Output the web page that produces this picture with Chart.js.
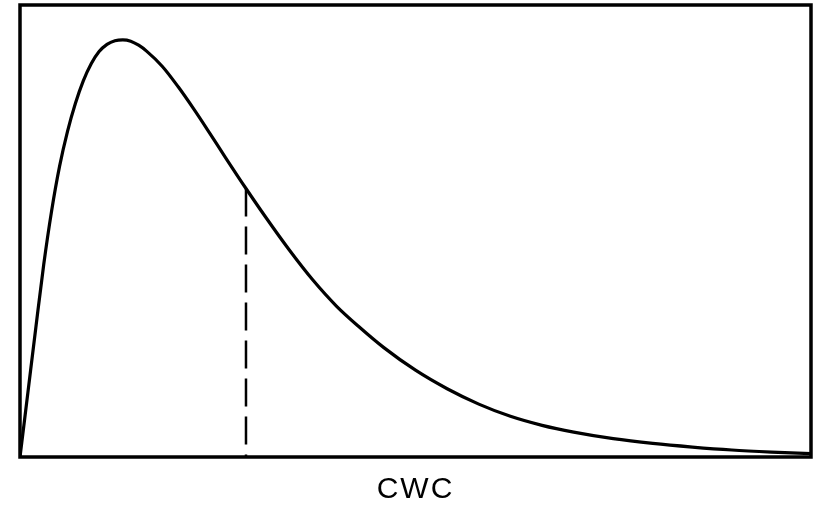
<!DOCTYPE html>
<html>
<head>
<meta charset="utf-8">
<script src="https://cdn.jsdelivr.net/npm/chart.js@4.4.1/dist/chart.umd.min.js"></script>
<style>
  html, body { margin: 0; padding: 0; background: #fff; }
  #wrap { width: 817px; height: 508px; }
</style>
</head>
<body>
<div id="wrap"><canvas id="cwc-chart"></canvas></div>
<script>
// distribution curve, CWC on x (0..100), density on y (0..100)
var cwcValues = [0, 1, 2, 3, 4, 5, 6, 7, 8, 9, 10, 11, 12, 13, 14, 15, 16, 18, 20, 22, 24, 26,
  28.57, 31, 34, 37, 40, 43, 46, 50, 54, 58, 62, 66, 70, 75, 80, 85, 90, 95, 100];
var densityValues = [0, 14.3, 28.6, 42.6, 54.5, 64.3, 72.0, 78.2, 83.2, 87.0, 89.7, 91.3,
  92.1, 92.3, 92.0, 91.1, 89.8, 86.4, 81.9, 76.9, 71.6, 66.2,
  59.4, 53.2, 45.9, 39.2, 33.4, 28.6, 24.2, 19.2, 15.1, 11.7, 9.0, 7.0, 5.5, 4.05, 3.0, 2.2, 1.55, 1.1, 0.75];

// dashed marker dropped from the curve
var markerCwc = 28.57;
var markerDensity = 59.4;

var curvePoints = cwcValues.map(function(x, i) {
  return { x: x, y: densityValues[i] };
});

// frame around the plot area, spaced-out axis title
var framePlugin = {
  id: 'frame',
  beforeDraw: function(chart) {
    chart.ctx.letterSpacing = '2px';
  },
  afterDatasetsDraw: function(chart) {
    var a = chart.chartArea;
    var ctx = chart.ctx;
    ctx.save();
    ctx.strokeStyle = '#000';
    ctx.lineWidth = 3.5;
    ctx.strokeRect(a.left, a.top, a.right - a.left, a.bottom - a.top);
    ctx.restore();
  }
};

var ctx = document.getElementById('cwc-chart').getContext('2d');
window.cwcChart = new Chart(ctx, {
  type: 'line',
  data: {
    datasets: [{
      data: curvePoints,
      borderColor: '#000',
      borderWidth: 3.2,
      pointRadius: 0,
      fill: false,
      cubicInterpolationMode: 'monotone'
    }, {
      data: [{ x: markerCwc, y: markerDensity }, { x: markerCwc, y: 0 }],
      borderColor: '#000',
      borderWidth: 2.5,
      borderDash: [28, 10],
      pointRadius: 0,
      tension: 0,
      fill: false
    }]
  },
  options: {
    responsive: true,
    maintainAspectRatio: false,
    animation: false,
    layout: { padding: { left: 20, right: 6, top: 5, bottom: 0 } },
    plugins: {
      legend: { display: false },
      tooltip: { enabled: false }
    },
    scales: {
      x: {
        type: 'linear',
        min: 0,
        max: 100,
        grid: { display: false, drawTicks: false },
        border: { display: false },
        ticks: { display: false },
        title: {
          display: true,
          text: 'CWC',
          color: '#000',
          font: { family: 'Liberation Sans', size: 30 },
          padding: { top: 15, bottom: 0 }
        }
      },
      y: {
        display: false,
        min: 0,
        max: 100
      }
    }
  },
  plugins: [framePlugin]
});
</script>
</body>
</html>
